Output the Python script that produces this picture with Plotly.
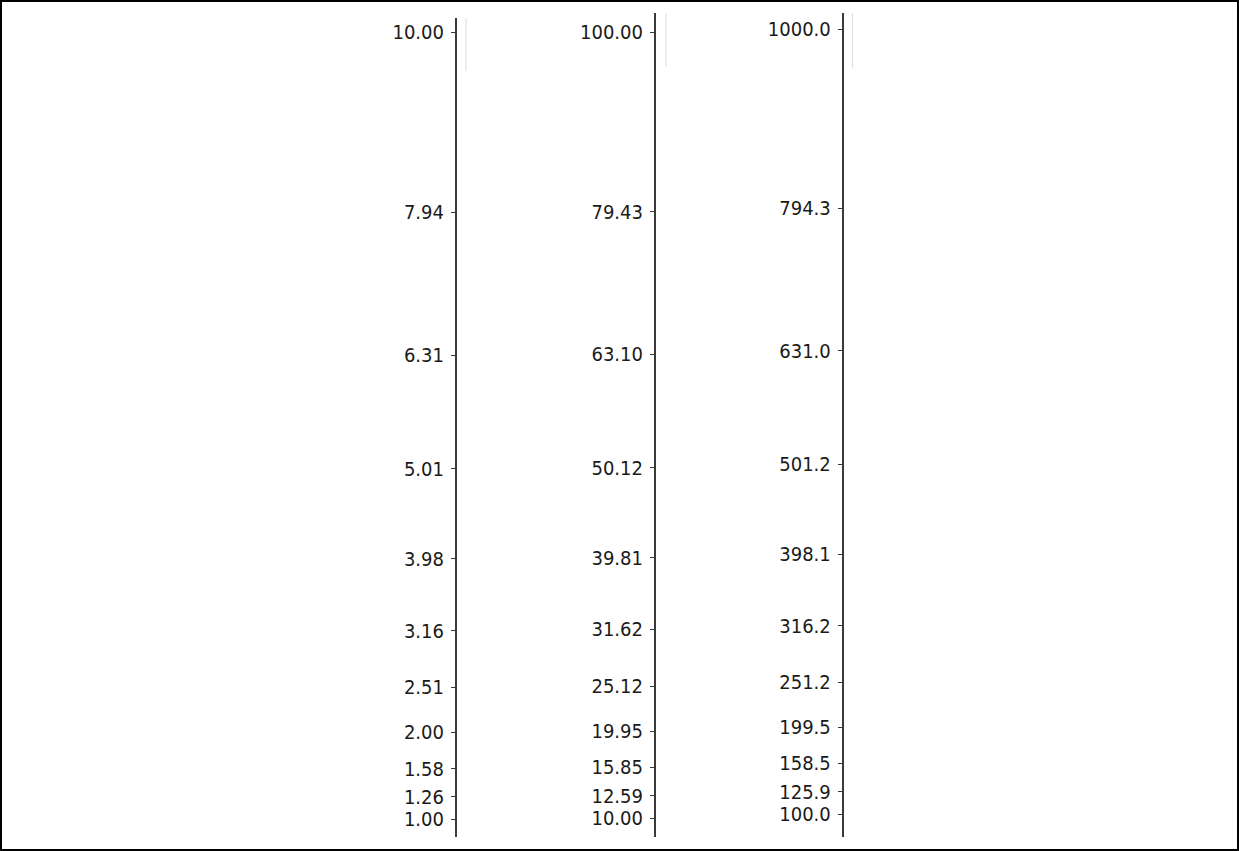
import plotly.graph_objects as go

W, H = 1239, 851

axis1_values = [1.00, 1.26, 1.58, 2.00, 2.51, 3.16, 3.98, 5.01, 6.31, 7.94, 10.00]
axis2_values = [10.00, 12.59, 15.85, 19.95, 25.12, 31.62, 39.81, 50.12, 63.10, 79.43, 100.00]
axis3_values = [100.0, 125.9, 158.5, 199.5, 251.2, 316.2, 398.1, 501.2, 631.0, 794.3, 1000.0]
axis1_labels = [f"{v:.2f}" for v in axis1_values]
axis2_labels = [f"{v:.2f}" for v in axis2_values]
axis3_labels = [f"{v:.1f}" for v in axis3_values]

AX_COLOR = "#3a3a3a"
TXT_COLOR = "#1a1a1a"
FONT = dict(family="DejaVu Sans Condensed", size=20, color=TXT_COLOR)

def py(pix):
    return (H - pix) / H

specs = [
    (axis1_values, axis1_labels, 456.7, 836.7, 18.3, [0.803, 10.16]),
    (axis2_values, axis2_labels, 655.7, 836.7, 13.3, [7.894, 102.14]),
    (axis3_values, axis3_labels, 843.5, 837.0, 13.3, [74.0, 1018.0]),
]

fig = go.Figure()
layout = dict(width=W, height=H, autosize=False,
              margin=dict(l=0, r=0, t=0, b=0),
              paper_bgcolor="white", plot_bgcolor="rgba(0,0,0,0)",
              showlegend=False)

for i, (vals, labels, xpix, bot, top, rng) in enumerate(specs, start=1):
    sfx = "" if i == 1 else str(i)
    fig.add_trace(go.Scatter(x=[0.5] * len(vals), y=vals, mode="markers",
                             marker=dict(size=1, opacity=0),
                             xaxis="x" + sfx, yaxis="y" + sfx,
                             hoverinfo="skip", showlegend=False))
    layout["xaxis" + sfx] = dict(domain=[xpix / W, (xpix + 5) / W], range=[0, 1],
                                 anchor="y" + sfx, visible=False, fixedrange=True)
    layout["yaxis" + sfx] = dict(domain=[py(bot), py(top)], anchor="x" + sfx,
                                 range=rng, tickmode="array", tickvals=vals,
                                 ticktext=labels, showgrid=False, zeroline=False,
                                 showline=True, linecolor=AX_COLOR, linewidth=1.5,
                                 ticks="outside", ticklen=4, tickwidth=1.3,
                                 tickcolor=AX_COLOR, tickfont=FONT, side="left",
                                 ticklabelstandoff=3, fixedrange=True)

fig.update_layout(**layout)

shapes = [dict(type="rect", xref="paper", yref="paper",
               x0=1 / W, x1=1 - 1 / W, y0=1 / H, y1=1 - 1 / H,
               line=dict(color="black", width=2), fillcolor="rgba(0,0,0,0)")]
for xp, top, bot in [(466, 18, 71), (666, 13, 67), (852.5, 13, 68)]:
    shapes.append(dict(type="line", xref="paper", yref="paper",
                       x0=xp / W, x1=xp / W, y0=py(bot), y1=py(top),
                       line=dict(color="#dddddd", width=1)))
fig.update_layout(shapes=shapes)

fig.write_html("out.html")
